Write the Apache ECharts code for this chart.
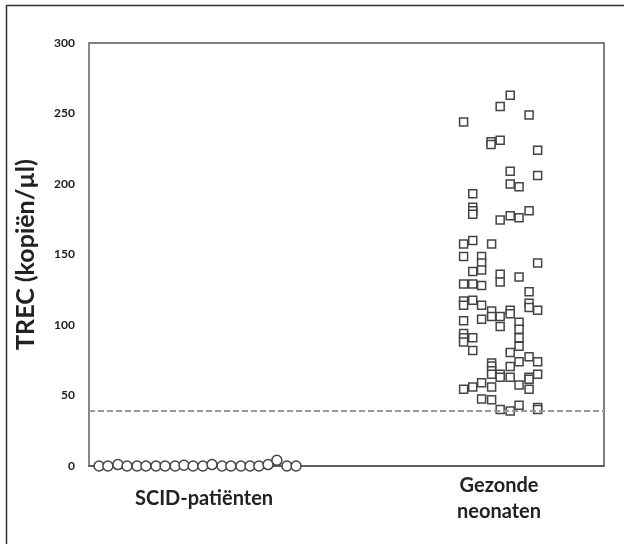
<!DOCTYPE html>
<html>
<head>
<meta charset="utf-8">
<script src="https://cdn.jsdelivr.net/npm/echarts@6/dist/echarts.min.js"></script>
<style>html,body{margin:0;padding:0;background:#fff}#c{width:624px;height:544px}</style>
</head>
<body>
<div id="c"></div>
<script>
// ---- data ----
const categories = ['SCID-patiënten', 'Gezonde\nneonaten'];
const categoryPos = [0.39, 1.39];
const yTicks = [0, 50, 100, 150, 200, 250, 300];
const cutoff = 39.3;

const scidX = [0.034,0.064,0.098,0.129,0.163,0.193,0.227,0.258,0.292,0.322,0.353,0.386,0.417,0.451,0.481,0.515,0.546,0.576,0.607,0.637,0.671,0.702];
const scidY = [0,0,1,0,0,0,0,0,0,0.5,0,0,1,0,0,0,0,0,1,4,0,0];

const gezX = [1.428,1.394,1.492,1.270,1.363,1.363,1.394,1.521,1.428,1.521,1.428,1.458,1.301,1.301,1.301,1.301,1.394,1.428,1.458,1.492,
  1.270,1.301,1.365,1.270,1.331,1.331,1.331,1.301,1.521,1.394,1.394,1.458,1.270,1.301,1.331,1.492,1.270,1.270,1.301,1.331,
  1.365,1.365,1.394,1.428,1.428,1.492,1.492,1.521,1.270,1.331,1.394,1.458,1.458,1.270,1.270,1.270,1.301,1.301,1.458,1.458,
  1.428,1.492,1.458,1.521,1.365,1.365,1.365,1.365,1.394,1.394,1.428,1.428,1.492,1.492,1.521,1.331,1.301,1.270,1.365,1.458,
  1.492,1.331,1.365,1.394,1.428,1.458,1.521,1.521];
const gezY = [263,255,249,244,230,228,231,224,209,206,200,198,193,183.5,181,178.5,174.5,177.5,176,181,
  157.5,160,157.5,148.5,148.5,144,139,138,144,136,130.5,134,129,129,128,123.5,117,114,117.5,114,
  110,106,106,110.5,108,115.5,112.5,110.5,103,104,99,102,97,94,91,88,91,82,91,85,
  80.5,77.5,74,74,73,71,67.5,65,65,63,70.5,63,63,61.5,65,59,56,54.5,56,57.5,
  54.5,47.5,47,40,39,43,41.5,40];

// ---- chart ----
const font = 'Lato, "Open Sans", sans-serif';
const chart = echarts.init(document.getElementById('c'), null, {renderer: 'canvas'});
chart.setOption({
  animation: false,
  backgroundColor: '#fff',
  graphic: [{
    type: 'rect', silent: true, z: 100,
    shape: {x: 6.5, y: 5.5, width: 800, height: 800},
    style: {fill: 'none', stroke: '#333', lineWidth: 1.5}
  }],
  grid: {left: 89, right: 20, top: 43, bottom: 78, show: true, borderColor: '#555', borderWidth: 1.5},
  xAxis: {
    type: 'value', min: 0, max: 1.746,
    splitLine: {show: false},
    axisTick: {show: false},
    axisLine: {show: true, onZero: false, lineStyle: {color: '#555', width: 1.5}},
    axisLabel: {
      show: true,
      customValues: categoryPos,
      hideOverlap: false,
      formatter: function (v) {
        let best = 0;
        categoryPos.forEach((p, i) => { if (Math.abs(p - v) < Math.abs(categoryPos[best] - v)) best = i; });
        return categories[best];
      },
      margin: 33, verticalAlign: 'middle', lineHeight: 26,
      fontFamily: font, fontWeight: 'bold', fontSize: 20, color: '#222'
    }
  },
  yAxis: {
    type: 'value', min: 0, max: 300, interval: 50,
    name: 'TREC (kopiën/µl)', nameLocation: 'middle', nameGap: 51,
    nameTextStyle: {fontFamily: font, fontWeight: 'bold', fontSize: 25, color: '#222'},
    splitLine: {show: false},
    axisTick: {show: false},
    axisLine: {show: true, lineStyle: {color: '#888', width: 1.5}},
    axisLabel: {
      margin: 14, fontFamily: font, fontWeight: 'bold', fontSize: 12, color: '#222',
      formatter: v => yTicks.includes(v) ? String(v) : ''
    }
  },
  series: [
    {
      type: 'scatter', clip: false, symbol: 'circle', symbolSize: 10, z: 3,
      itemStyle: {color: '#fff', borderColor: '#444', borderWidth: 1.5, opacity: 1},
      data: scidX.map((x, i) => [x, scidY[i]]),
      markLine: {
        silent: true, symbol: 'none', label: {show: false},
        lineStyle: {color: '#999', type: [6, 3], width: 2},
        data: [{yAxis: cutoff}]
      }
    },
    {
      type: 'scatter', clip: false, symbol: 'rect', symbolSize: 8, z: 4,
      itemStyle: {color: '#fff', borderColor: '#444', borderWidth: 1.5, opacity: 1},
      data: gezX.map((x, i) => [x, gezY[i]])
    }
  ]
});
</script>
</body>
</html>
